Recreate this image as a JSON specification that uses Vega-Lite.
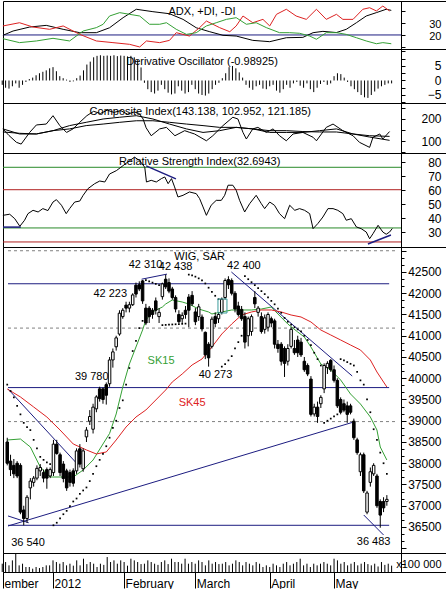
{
"$schema":"https://vega.github.io/schema/vega-lite/v6.json",
"padding":0,
"bounds":"flush",
"spacing":0,
"config":{"font":"Liberation Sans","view":{"stroke":"black","strokeWidth":1},"axis":{"grid":false,"labelFont":"Liberation Sans","labelFontSize":12,"labelColor":"black","tickColor":"black","domainColor":"black","tickSize":4,"title":null,"labelFlush":false,"labelOverlap":false},"text":{"font":"Liberation Sans"}},
"datasets":{
"d":[
{"t":0,"o":38500,"h":38600,"l":37950,"c":38000,"s":39850,"v":1050,"d":-1.5},
{"t":1,"o":38050,"h":38200,"l":37700,"c":37850,"s":39700,"v":1260,"d":-2.5},
{"t":2,"o":37950,"h":38100,"l":37650,"c":37750,"s":39550,"v":840,"d":-2.8},
{"t":3,"o":38000,"h":38050,"l":37650,"c":37700,"s":39350,"v":1470,"d":-2.0},
{"t":4,"o":37950,"h":38000,"l":36800,"c":36850,"s":39150,"v":2300,"d":-1.0},
{"t":5,"o":36900,"h":37000,"l":36540,"c":36700,"s":38950,"v":840,"d":-2.5},
{"t":6,"o":36700,"h":37250,"l":36600,"c":37200,"s":38850,"v":1050,"d":-1.5},
{"t":7,"o":37420,"h":37650,"l":37150,"c":37580,"s":38780,"v":630,"d":-0.5},
{"t":8,"o":37550,"h":37700,"l":37450,"c":37650,"s":38550,"v":630,"d":0.5},
{"t":9,"o":37650,"h":37950,"l":37600,"c":37880,"s":38350,"v":420,"d":1.0},
{"t":10,"o":37820,"h":37980,"l":37700,"c":37900,"s":38150,"v":630,"d":1.8},
{"t":11,"o":37780,"h":37850,"l":37550,"c":37650,"s":38080,"v":500,"d":2.5},
{"t":12,"o":37850,"h":37900,"l":37400,"c":37650,"s":38020,"v":630,"d":3.0},
{"t":13,"o":37700,"h":37900,"l":37650,"c":37850,"s":37980,"v":840,"d":3.5},
{"t":14,"o":37780,"h":38550,"l":37700,"c":38450,"s":36540,"v":840,"d":4.2},
{"t":15,"o":38450,"h":38550,"l":38200,"c":38230,"s":36600,"v":1470,"d":4.6},
{"t":16,"o":38200,"h":38250,"l":37700,"c":37780,"s":36700,"v":1260,"d":3.2},
{"t":17,"o":37980,"h":38050,"l":37550,"c":37640,"s":36800,"v":1050,"d":1.5},
{"t":18,"o":37820,"h":37870,"l":37350,"c":37420,"s":36880,"v":1260,"d":0.8},
{"t":19,"o":37780,"h":37850,"l":37450,"c":37550,"s":36990,"v":840,"d":0.3},
{"t":20,"o":37820,"h":37880,"l":37450,"c":37530,"s":37100,"v":1050,"d":-0.5},
{"t":21,"o":37820,"h":38350,"l":37750,"c":38290,"s":37170,"v":800,"d":-0.3},
{"t":22,"o":38340,"h":38450,"l":37900,"c":37980,"s":37280,"v":1470,"d":0.8},
{"t":23,"o":37870,"h":38350,"l":37800,"c":38290,"s":37360,"v":840,"d":1.7},
{"t":24,"o":38620,"h":38850,"l":38500,"c":38780,"s":37430,"v":1680,"d":3.5},
{"t":25,"o":38990,"h":39250,"l":38900,"c":39100,"s":37580,"v":1000,"d":5.5},
{"t":26,"o":38800,"h":39400,"l":38700,"c":39320,"s":37750,"v":1260,"d":6.5},
{"t":27,"o":39280,"h":39600,"l":39200,"c":39560,"s":37930,"v":1050,"d":8.0},
{"t":28,"o":39750,"h":39800,"l":39450,"c":39520,"s":38080,"v":630,"d":8.5},
{"t":29,"o":39750,"h":39780,"l":39400,"c":39500,"s":38220,"v":1050,"d":8.7},
{"t":30,"o":39850,"h":39900,"l":39380,"c":39600,"s":38400,"v":900,"d":8.5},
{"t":31,"o":39870,"h":40500,"l":39800,"c":40430,"s":38600,"v":1890,"d":8.6},
{"t":32,"o":40430,"h":40700,"l":40250,"c":40620,"s":38830,"v":1260,"d":8.5},
{"t":33,"o":40740,"h":41000,"l":40650,"c":40950,"s":39000,"v":1470,"d":8.7},
{"t":34,"o":41040,"h":41600,"l":41000,"c":41530,"s":39300,"v":1050,"d":8.4},
{"t":35,"o":41450,"h":41650,"l":41400,"c":41600,"s":39480,"v":1470,"d":8.6},
{"t":36,"o":41720,"h":41800,"l":41550,"c":41650,"s":39850,"v":1260,"d":8.5},
{"t":37,"o":41650,"h":41800,"l":41550,"c":41730,"s":40240,"v":800,"d":8.3},
{"t":38,"o":41730,"h":42000,"l":41700,"c":41960,"s":40640,"v":1680,"d":8.5},
{"t":39,"o":42190,"h":42250,"l":41900,"c":41980,"s":40880,"v":1470,"d":8.0},
{"t":40,"o":42200,"h":42280,"l":42050,"c":42100,"s":41180,"v":1260,"d":7.0},
{"t":41,"o":42290,"h":42310,"l":41750,"c":41820,"s":41350,"v":1000,"d":4.5},
{"t":42,"o":41650,"h":41750,"l":41250,"c":41300,"s":42310,"v":1050,"d":-0.8},
{"t":43,"o":41650,"h":41700,"l":41300,"c":41450,"s":42280,"v":1470,"d":-3.0},
{"t":44,"o":41600,"h":41650,"l":41400,"c":41500,"s":42250,"v":1260,"d":-4.0},
{"t":45,"o":41820,"h":41900,"l":41500,"c":41600,"s":42220,"v":1050,"d":-4.5},
{"t":46,"o":41450,"h":41650,"l":41300,"c":41550,"s":42190,"v":900,"d":-3.5},
{"t":47,"o":41920,"h":42250,"l":41850,"c":42220,"s":41250,"v":1260,"d":-1.5},
{"t":48,"o":42330,"h":42438,"l":42100,"c":42150,"s":41255,"v":1470,"d":-3.0},
{"t":49,"o":42250,"h":42350,"l":42000,"c":42050,"s":41260,"v":1000,"d":-4.2},
{"t":50,"o":42100,"h":42150,"l":41850,"c":41900,"s":41265,"v":1680,"d":-4.8},
{"t":51,"o":41900,"h":41950,"l":41550,"c":41630,"s":41270,"v":1260,"d":-4.5},
{"t":52,"o":41500,"h":41600,"l":41300,"c":41330,"s":41275,"v":1260,"d":-2.0},
{"t":53,"o":41400,"h":41550,"l":41300,"c":41480,"s":41280,"v":1050,"d":-3.5},
{"t":54,"o":41600,"h":41700,"l":41400,"c":41500,"s":41285,"v":1680,"d":-4.5},
{"t":55,"o":41910,"h":41980,"l":41200,"c":41600,"s":42438,"v":1050,"d":-4.0},
{"t":56,"o":41950,"h":42050,"l":41700,"c":41750,"s":42420,"v":1260,"d":-1.5},
{"t":57,"o":41560,"h":41650,"l":41250,"c":41330,"s":42390,"v":1050,"d":-3.0},
{"t":58,"o":41450,"h":41750,"l":41350,"c":41680,"s":42350,"v":1470,"d":-4.5},
{"t":59,"o":41440,"h":41500,"l":41100,"c":41160,"s":42300,"v":1260,"d":-5.0},
{"t":60,"o":41080,"h":41100,"l":40450,"c":40550,"s":42230,"v":840,"d":-5.2},
{"t":61,"o":40800,"h":40850,"l":40273,"c":40480,"s":42130,"v":1470,"d":-4.5},
{"t":62,"o":40750,"h":41450,"l":40700,"c":41390,"s":42030,"v":1050,"d":-3.0},
{"t":63,"o":41450,"h":41550,"l":41200,"c":41290,"s":41940,"v":1260,"d":-1.5},
{"t":64,"o":41400,"h":41550,"l":41300,"c":41500,"s":41860,"v":1000,"d":-0.8},
{"t":65,"o":41550,"h":41900,"l":41500,"c":41860,"s":40273,"v":1050,"d":0.8},
{"t":66,"o":41900,"h":42350,"l":41850,"c":42300,"s":40330,"v":1260,"d":2.5},
{"t":67,"o":42320,"h":42400,"l":42100,"c":42200,"s":40420,"v":840,"d":4.6},
{"t":68,"o":42300,"h":42350,"l":41950,"c":42000,"s":40520,"v":1050,"d":5.0},
{"t":69,"o":42000,"h":42050,"l":41550,"c":41630,"s":40700,"v":1470,"d":4.2},
{"t":70,"o":41700,"h":41800,"l":41450,"c":41500,"s":40850,"v":1260,"d":2.8},
{"t":71,"o":41620,"h":41700,"l":41350,"c":41400,"s":41000,"v":840,"d":1.0},
{"t":72,"o":41450,"h":41550,"l":40700,"c":40850,"s":42400,"v":1260,"d":-1.5},
{"t":73,"o":41000,"h":41450,"l":40750,"c":41400,"s":42330,"v":1050,"d":-2.5},
{"t":74,"o":41100,"h":41500,"l":41000,"c":41450,"s":42260,"v":840,"d":-3.2},
{"t":75,"o":41900,"h":42050,"l":41650,"c":41750,"s":42190,"v":1260,"d":-2.0},
{"t":76,"o":41550,"h":41700,"l":41450,"c":41650,"s":42120,"v":1050,"d":-1.5},
{"t":77,"o":41450,"h":41550,"l":41050,"c":41100,"s":42050,"v":630,"d":-2.8},
{"t":78,"o":41150,"h":41500,"l":41050,"c":41420,"s":41980,"v":840,"d":-3.0},
{"t":79,"o":41200,"h":41550,"l":41100,"c":41500,"s":41900,"v":630,"d":-2.0},
{"t":80,"o":41400,"h":41450,"l":41200,"c":41300,"s":41820,"v":1050,"d":-1.5},
{"t":81,"o":41350,"h":41400,"l":40700,"c":40800,"s":41740,"v":840,"d":-3.5},
{"t":82,"o":40800,"h":40900,"l":40600,"c":40700,"s":41640,"v":630,"d":-4.2},
{"t":83,"o":40800,"h":40850,"l":40300,"c":40400,"s":41540,"v":1050,"d":-3.0},
{"t":84,"o":40700,"h":40750,"l":40030,"c":40350,"s":41420,"v":1260,"d":-1.5},
{"t":85,"o":40400,"h":40800,"l":40300,"c":40700,"s":41330,"v":840,"d":-2.5},
{"t":86,"o":40750,"h":41200,"l":40700,"c":41150,"s":41260,"v":1050,"d":-1.0},
{"t":87,"o":40700,"h":40900,"l":40550,"c":40600,"s":41200,"v":1260,"d":-0.5},
{"t":88,"o":40900,"h":41000,"l":40500,"c":40600,"s":41150,"v":1680,"d":-1.8},
{"t":89,"o":40850,"h":40950,"l":40500,"c":40550,"s":41100,"v":840,"d":-2.5},
{"t":90,"o":40400,"h":40500,"l":40150,"c":40200,"s":41000,"v":1050,"d":-1.0},
{"t":91,"o":40300,"h":40350,"l":40050,"c":40100,"s":40900,"v":630,"d":-3.0},
{"t":92,"o":39980,"h":40050,"l":39100,"c":39150,"s":40780,"v":1050,"d":-4.0},
{"t":93,"o":39160,"h":39400,"l":39100,"c":39320,"s":40600,"v":840,"d":-2.5},
{"t":94,"o":39320,"h":39450,"l":38950,"c":39100,"s":40450,"v":1050,"d":-1.2},
{"t":95,"o":39400,"h":39600,"l":39300,"c":39550,"s":40300,"v":1260,"d":-0.5},
{"t":96,"o":39750,"h":40350,"l":39650,"c":40300,"s":38950,"v":1050,"d":-1.5},
{"t":97,"o":40250,"h":40400,"l":40100,"c":40350,"s":39000,"v":840,"d":-1.0},
{"t":98,"o":40420,"h":40450,"l":40150,"c":40200,"s":39050,"v":1680,"d":1.5},
{"t":99,"o":40200,"h":40300,"l":39900,"c":39950,"s":39100,"v":1470,"d":2.5},
{"t":100,"o":39950,"h":40000,"l":39300,"c":39350,"s":39150,"v":1050,"d":2.2},
{"t":101,"o":39500,"h":39550,"l":39150,"c":39200,"s":40450,"v":1260,"d":1.0},
{"t":102,"o":39400,"h":39500,"l":39200,"c":39250,"s":40420,"v":840,"d":-0.5},
{"t":103,"o":39350,"h":39450,"l":38950,"c":39150,"s":40380,"v":1050,"d":-2.0},
{"t":104,"o":39350,"h":39400,"l":39150,"c":39200,"s":40340,"v":1260,"d":-3.0},
{"t":105,"o":38990,"h":39050,"l":38550,"c":38600,"s":40300,"v":840,"d":-4.0},
{"t":106,"o":38550,"h":38600,"l":38200,"c":38250,"s":40150,"v":1050,"d":-5.0},
{"t":107,"o":37800,"h":38250,"l":37700,"c":38200,"s":39950,"v":1260,"d":-5.8},
{"t":108,"o":38200,"h":38250,"l":37300,"c":37350,"s":39850,"v":1000,"d":-6.0},
{"t":109,"o":36850,"h":37350,"l":36800,"c":37300,"s":39500,"v":840,"d":-5.0},
{"t":110,"o":37550,"h":37900,"l":37450,"c":37800,"s":39200,"v":1050,"d":-3.8},
{"t":111,"o":37750,"h":38000,"l":37700,"c":37950,"s":38800,"v":700,"d":-2.8},
{"t":112,"o":37700,"h":37750,"l":36950,"c":37000,"s":38550,"v":1260,"d":-2.0},
{"t":113,"o":37100,"h":37150,"l":36483,"c":36780,"s":38250,"v":900,"d":-1.5},
{"t":114,"o":37100,"h":37200,"l":36850,"c":36950,"s":38000,"v":1050,"d":-1.0},
{"t":115,"o":37100,"h":37250,"l":37000,"c":37150,"s":37750,"v":800,"d":-1.0}
],
"adx":[
{"t":0.2,"k":"ADX","v":19.7},{"t":3.2,"k":"ADX","v":23.3},{"t":8.1,"k":"ADX","v":26.6},{"t":13,"k":"ADX","v":28},{"t":18,"k":"ADX","v":24.7},{"t":22.9,"k":"ADX","v":21.9},{"t":27.8,"k":"ADX","v":21.9},{"t":31.7,"k":"ADX","v":26},{"t":35.7,"k":"ADX","v":34.4},{"t":39.6,"k":"ADX","v":41.4},{"t":44.5,"k":"ADX","v":39.4},{"t":49.4,"k":"ADX","v":37.7},{"t":53.4,"k":"ADX","v":33},{"t":57.3,"k":"ADX","v":26},{"t":61.3,"k":"ADX","v":22.7},{"t":65.2,"k":"ADX","v":19.7},{"t":69.1,"k":"ADX","v":19.1},{"t":74,"k":"ADX","v":15.5},{"t":79,"k":"ADX","v":14.4},{"t":83.9,"k":"ADX","v":17.7},{"t":88.8,"k":"ADX","v":18},{"t":91.8,"k":"ADX","v":21.9},{"t":94.7,"k":"ADX","v":23},{"t":98.7,"k":"ADX","v":22},{"t":101.6,"k":"ADX","v":24.7},{"t":104.6,"k":"ADX","v":30.2},{"t":107.5,"k":"ADX","v":35.8},{"t":110.5,"k":"ADX","v":38.6},{"t":113.4,"k":"ADX","v":41.4},{"t":114.9,"k":"ADX","v":40.5},
{"t":0.2,"k":"-DI","v":27.5},{"t":5.1,"k":"-DI","v":30.2},{"t":9.1,"k":"-DI","v":26.6},{"t":14,"k":"-DI","v":24.7},{"t":18,"k":"-DI","v":27.5},{"t":22.9,"k":"-DI","v":20.5},{"t":27.8,"k":"-DI","v":15},{"t":32.7,"k":"-DI","v":13.6},{"t":37.6,"k":"-DI","v":12.2},{"t":40.6,"k":"-DI","v":10},{"t":42.6,"k":"-DI","v":15},{"t":46.5,"k":"-DI","v":13.6},{"t":49.4,"k":"-DI","v":15.5},{"t":51.4,"k":"-DI","v":21.9},{"t":55.3,"k":"-DI","v":19.1},{"t":58.3,"k":"-DI","v":26.1},{"t":60.3,"k":"-DI","v":31.6},{"t":64.2,"k":"-DI","v":26.1},{"t":67.2,"k":"-DI","v":22.7},{"t":69.1,"k":"-DI","v":27.5},{"t":71.1,"k":"-DI","v":35.8},{"t":74,"k":"-DI","v":30.2},{"t":77,"k":"-DI","v":33},{"t":79,"k":"-DI","v":27.5},{"t":81,"k":"-DI","v":37.2},{"t":83.9,"k":"-DI","v":41.4},{"t":86.8,"k":"-DI","v":35.8},{"t":89.8,"k":"-DI","v":33},{"t":92.8,"k":"-DI","v":41.4},{"t":95.7,"k":"-DI","v":33},{"t":98.7,"k":"-DI","v":37.2},{"t":100.6,"k":"-DI","v":33},{"t":103.6,"k":"-DI","v":33},{"t":106.5,"k":"-DI","v":41.4},{"t":108.5,"k":"-DI","v":42.7},{"t":110.5,"k":"-DI","v":40},{"t":112.4,"k":"-DI","v":44.1},{"t":114.4,"k":"-DI","v":40},
{"t":0.2,"k":"+DI","v":16.9},{"t":5.1,"k":"+DI","v":13.6},{"t":10.1,"k":"+DI","v":15},{"t":15,"k":"+DI","v":17.2},{"t":19.9,"k":"+DI","v":15},{"t":23.9,"k":"+DI","v":23.3},{"t":27.8,"k":"+DI","v":26.1},{"t":29.8,"k":"+DI","v":28.9},{"t":31.7,"k":"+DI","v":35.8},{"t":34.7,"k":"+DI","v":38.6},{"t":37.6,"k":"+DI","v":37.2},{"t":40.6,"k":"+DI","v":35.8},{"t":43.5,"k":"+DI","v":28.9},{"t":46.5,"k":"+DI","v":28.9},{"t":48.5,"k":"+DI","v":30.2},{"t":51.4,"k":"+DI","v":24.7},{"t":54.4,"k":"+DI","v":20.5},{"t":57.3,"k":"+DI","v":21.9},{"t":60.3,"k":"+DI","v":27.5},{"t":63.2,"k":"+DI","v":30.2},{"t":66.2,"k":"+DI","v":33},{"t":69.1,"k":"+DI","v":34.4},{"t":72.1,"k":"+DI","v":28.9},{"t":75,"k":"+DI","v":30.2},{"t":78,"k":"+DI","v":26.1},{"t":81.9,"k":"+DI","v":21.9},{"t":84.9,"k":"+DI","v":21.9},{"t":87.8,"k":"+DI","v":21.4},{"t":90.8,"k":"+DI","v":19.1},{"t":92.8,"k":"+DI","v":16.4},{"t":95.7,"k":"+DI","v":21.9},{"t":98.7,"k":"+DI","v":21.9},{"t":101.6,"k":"+DI","v":20.5},{"t":104.6,"k":"+DI","v":17.7},{"t":107.5,"k":"+DI","v":15},{"t":110.5,"k":"+DI","v":12.7},{"t":112.4,"k":"+DI","v":13.6},{"t":114.9,"k":"+DI","v":12.7}
],
"ci":[
{"t":0.2,"k":"CI","v":155},{"t":2,"k":"CI","v":125},{"t":4.2,"k":"CI","v":94},{"t":5.6,"k":"CI","v":86},{"t":8.1,"k":"CI","v":139},{"t":10.1,"k":"CI","v":173},{"t":13,"k":"CI","v":177},{"t":15,"k":"CI","v":215},{"t":17,"k":"CI","v":170},{"t":19,"k":"CI","v":139},{"t":20.9,"k":"CI","v":155},{"t":22.9,"k":"CI","v":185},{"t":25,"k":"CI","v":215},{"t":27,"k":"CI","v":235},{"t":29,"k":"CI","v":225},{"t":31,"k":"CI","v":240},{"t":33,"k":"CI","v":230},{"t":35,"k":"CI","v":238},{"t":37,"k":"CI","v":222},{"t":39,"k":"CI","v":232},{"t":40.5,"k":"CI","v":225},{"t":41.6,"k":"CI","v":200},{"t":42.5,"k":"CI","v":160},{"t":44,"k":"CI","v":124},{"t":46.5,"k":"CI","v":155},{"t":48.5,"k":"CI","v":162},{"t":51,"k":"CI","v":124},{"t":53.9,"k":"CI","v":147},{"t":55.4,"k":"CI","v":139},{"t":56.8,"k":"CI","v":132},{"t":60.3,"k":"CI","v":101},{"t":62.2,"k":"CI","v":124},{"t":65.2,"k":"CI","v":170},{"t":68.1,"k":"CI","v":208},{"t":69.6,"k":"CI","v":200},{"t":71.1,"k":"CI","v":139},{"t":72.1,"k":"CI","v":109},{"t":74,"k":"CI","v":155},{"t":75.5,"k":"CI","v":162},{"t":78,"k":"CI","v":139},{"t":80,"k":"CI","v":155},{"t":81.9,"k":"CI","v":124},{"t":83.9,"k":"CI","v":101},{"t":85.9,"k":"CI","v":132},{"t":88.8,"k":"CI","v":139},{"t":91.8,"k":"CI","v":117},{"t":92.8,"k":"CI","v":101},{"t":95.7,"k":"CI","v":162},{"t":97.7,"k":"CI","v":177},{"t":100.6,"k":"CI","v":147},{"t":103.6,"k":"CI","v":124},{"t":105.5,"k":"CI","v":94},{"t":108.5,"k":"CI","v":71},{"t":109.5,"k":"CI","v":117},{"t":111.5,"k":"CI","v":132},{"t":112.4,"k":"CI","v":109},{"t":114.4,"k":"CI","v":143},
{"t":0.2,"k":"A","v":155},{"t":5.1,"k":"A","v":132},{"t":10.1,"k":"A","v":132},{"t":15,"k":"A","v":147},{"t":19.9,"k":"A","v":170},{"t":24.8,"k":"A","v":185},{"t":29.8,"k":"A","v":200},{"t":34.7,"k":"A","v":208},{"t":39.6,"k":"A","v":215},{"t":44.5,"k":"A","v":200},{"t":49.4,"k":"A","v":177},{"t":54.4,"k":"A","v":155},{"t":59.3,"k":"A","v":139},{"t":64.2,"k":"A","v":147},{"t":69.1,"k":"A","v":162},{"t":74,"k":"A","v":155},{"t":79,"k":"A","v":139},{"t":83.9,"k":"A","v":139},{"t":88.8,"k":"A","v":139},{"t":93.7,"k":"A","v":147},{"t":98.7,"k":"A","v":155},{"t":103.6,"k":"A","v":132},{"t":108.5,"k":"A","v":118},{"t":114.4,"k":"A","v":103},
{"t":0.2,"k":"B","v":141},{"t":5.1,"k":"B","v":135},{"t":10.1,"k":"B","v":132},{"t":15,"k":"B","v":147},{"t":19.9,"k":"B","v":155},{"t":24.8,"k":"B","v":170},{"t":29.8,"k":"B","v":177},{"t":34.7,"k":"B","v":185},{"t":39.6,"k":"B","v":192},{"t":44.5,"k":"B","v":192},{"t":49.4,"k":"B","v":185},{"t":54.4,"k":"B","v":177},{"t":59.3,"k":"B","v":170},{"t":64.2,"k":"B","v":162},{"t":69.1,"k":"B","v":162},{"t":74,"k":"B","v":155},{"t":79,"k":"B","v":147},{"t":83.9,"k":"B","v":147},{"t":88.8,"k":"B","v":143},{"t":93.7,"k":"B","v":141},{"t":98.7,"k":"B","v":141},{"t":103.6,"k":"B","v":132},{"t":108.5,"k":"B","v":124},{"t":114.4,"k":"B","v":121}
],
"rsi":[
{"t":0.2,"r":42.1},{"t":2.2,"r":42.9},{"t":3.7,"r":39.7},{"t":5.2,"r":34.3},{"t":6.6,"r":38.6},{"t":7.6,"r":43.3},{"t":9.1,"r":45.7},{"t":10.6,"r":44.5},{"t":12,"r":46.9},{"t":13.5,"r":45.5},{"t":15,"r":51.6},{"t":16,"r":53.3},{"t":17.5,"r":49.3},{"t":18.9,"r":43.3},{"t":19.9,"r":46.9},{"t":21.4,"r":51.6},{"t":22.9,"r":52.3},{"t":23.9,"r":56.4},{"t":25.3,"r":61.1},{"t":27.3,"r":64.7},{"t":28.8,"r":66.6},{"t":30.3,"r":65.9},{"t":31.7,"r":71.6},{"t":33.7,"r":74},{"t":35.7,"r":77.6},{"t":37.6,"r":81.1},{"t":39.1,"r":83.6},{"t":40.6,"r":81.1},{"t":42.1,"r":76.4},{"t":42.6,"r":65.9},{"t":44,"r":67.1},{"t":45.5,"r":65.9},{"t":47,"r":68.3},{"t":48,"r":69.5},{"t":49,"r":64.7},{"t":50,"r":68.3},{"t":50.9,"r":62.4},{"t":51.9,"r":55.2},{"t":53.4,"r":56.4},{"t":55.3,"r":58.8},{"t":57.3,"r":57.6},{"t":58.3,"r":54},{"t":59.3,"r":48.1},{"t":60.3,"r":42.1},{"t":61.7,"r":49.3},{"t":63.2,"r":52.8},{"t":64.7,"r":52.8},{"t":65.7,"r":56.4},{"t":66.7,"r":63.6},{"t":68.1,"r":63.6},{"t":69.1,"r":60},{"t":70.1,"r":52.8},{"t":71.6,"r":44.5},{"t":73.1,"r":50.5},{"t":75,"r":56.4},{"t":76.5,"r":50.5},{"t":77.5,"r":46.9},{"t":79,"r":51.6},{"t":80.4,"r":49.3},{"t":81.9,"r":43.3},{"t":83.4,"r":39.7},{"t":84.9,"r":49.3},{"t":86.4,"r":45.7},{"t":87.8,"r":46.9},{"t":89.3,"r":45.7},{"t":90.8,"r":43.3},{"t":91.8,"r":32.6},{"t":93.2,"r":36.2},{"t":94.7,"r":40.9},{"t":96.2,"r":46.9},{"t":97.7,"r":46.9},{"t":99.1,"r":45.7},{"t":100.6,"r":43.3},{"t":101.6,"r":38.6},{"t":103.1,"r":39.7},{"t":104.6,"r":33.8},{"t":106,"r":32.6},{"t":107.5,"r":30.2},{"t":108.5,"r":25.4},{"t":109.5,"r":29},{"t":111,"r":35},{"t":112.4,"r":30.2},{"t":113.4,"r":28.6},{"t":114.4,"r":30.2},{"t":115.2,"r":32.7}
],
"ma":[
{"t":0,"k":"SK15","p":38547},{"t":4,"k":"SK15","p":38570},{"t":7,"k":"SK15","p":38382},{"t":10,"k":"SK15","p":37912},{"t":13,"k":"SK15","p":37676},{"t":16,"k":"SK15","p":37676},{"t":20,"k":"SK15","p":37676},{"t":23,"k":"SK15","p":37841},{"t":26,"k":"SK15","p":38076},{"t":29,"k":"SK15","p":38453},{"t":31,"k":"SK15","p":38700},{"t":33,"k":"SK15","p":39159},{"t":35,"k":"SK15","p":39794},{"t":37,"k":"SK15","p":40335},{"t":39,"k":"SK15","p":40735},{"t":41,"k":"SK15","p":41135},{"t":42,"k":"SK15","p":41371},{"t":44,"k":"SK15","p":41559},{"t":47,"k":"SK15","p":41676},{"t":48,"k":"SK15","p":41747},{"t":50,"k":"SK15","p":41841},{"t":53,"k":"SK15","p":41794},{"t":55,"k":"SK15","p":41747},{"t":58,"k":"SK15","p":41629},{"t":61,"k":"SK15","p":41559},{"t":62,"k":"SK15","p":41512},{"t":65,"k":"SK15","p":41559},{"t":68,"k":"SK15","p":41606},{"t":71,"k":"SK15","p":41606},{"t":74,"k":"SK15","p":41606},{"t":77,"k":"SK15","p":41629},{"t":80,"k":"SK15","p":41676},{"t":82,"k":"SK15","p":41512},{"t":85,"k":"SK15","p":41276},{"t":88,"k":"SK15","p":41088},{"t":90,"k":"SK15","p":40971},{"t":92,"k":"SK15","p":40735},{"t":95,"k":"SK15","p":40335},{"t":98,"k":"SK15","p":40194},{"t":101,"k":"SK15","p":39959},{"t":104,"k":"SK15","p":39629},{"t":107,"k":"SK15","p":39394},{"t":110,"k":"SK15","p":39088},{"t":112,"k":"SK15","p":38782},{"t":113,"k":"SK15","p":38382},{"t":115,"k":"SK15","p":38076},
{"t":0,"k":"SK45","p":39747},{"t":4,"k":"SK45","p":39559},{"t":8,"k":"SK45","p":39324},{"t":12,"k":"SK45","p":39088},{"t":16,"k":"SK45","p":38782},{"t":20,"k":"SK45","p":38453},{"t":24,"k":"SK45","p":38312},{"t":27,"k":"SK45","p":38218},{"t":30,"k":"SK45","p":38265},{"t":33,"k":"SK45","p":38547},{"t":36,"k":"SK45","p":38853},{"t":39,"k":"SK45","p":39088},{"t":42,"k":"SK45","p":39253},{"t":45,"k":"SK45","p":39488},{"t":48,"k":"SK45","p":39724},{"t":50,"k":"SK45","p":39912},{"t":53,"k":"SK45","p":40100},{"t":56,"k":"SK45","p":40312},{"t":59,"k":"SK45","p":40453},{"t":62,"k":"SK45","p":40735},{"t":65,"k":"SK45","p":41041},{"t":68,"k":"SK45","p":41276},{"t":71,"k":"SK45","p":41488},{"t":74,"k":"SK45","p":41559},{"t":77,"k":"SK45","p":41606},{"t":80,"k":"SK45","p":41606},{"t":83,"k":"SK45","p":41559},{"t":86,"k":"SK45","p":41488},{"t":89,"k":"SK45","p":41441},{"t":92,"k":"SK45","p":41324},{"t":95,"k":"SK45","p":41135},{"t":98,"k":"SK45","p":41018},{"t":101,"k":"SK45","p":40900},{"t":104,"k":"SK45","p":40782},{"t":107,"k":"SK45","p":40665},{"t":110,"k":"SK45","p":40429},{"t":112,"k":"SK45","p":40147},{"t":115,"k":"SK45","p":39794}
],
"hl":[
{"panel":"adx","v":20,"kind":"level"},
{"panel":"rsi","v":76.4,"kind":"bandA"},{"panel":"rsi","v":60.4,"kind":"bandB"},{"panel":"rsi","v":33.1,"kind":"bandA"},{"panel":"rsi","v":23.1,"kind":"bandB"},
{"panel":"main","v":43000,"kind":"grid"},{"panel":"main","v":41180,"kind":"grid"},{"panel":"main","v":38980,"kind":"grid"},
{"panel":"main","v":42223,"kind":"level"},{"panel":"main","v":39780,"kind":"level"},{"panel":"main","v":36540,"kind":"level"}
],
"tl":[
{"panel":"main","t1":0.23,"v1":36523,"t2":104.5,"v2":38960},
{"panel":"main","t1":0.23,"v1":39747,"t2":21.5,"v2":37959},
{"panel":"main","t1":0.23,"v1":36760,"t2":6.5,"v2":36600},
{"panel":"main","t1":40.7,"v1":42330,"t2":48.4,"v2":42450},
{"panel":"main","t1":67.9,"v1":42500,"t2":104.5,"v2":40053},
{"panel":"main","t1":108,"v1":36782,"t2":114,"v2":36312},
{"panel":"rsi","t1":0.23,"v1":33.7,"t2":5.5,"v2":33.7},
{"panel":"rsi","t1":108,"v1":21.6,"t2":114.8,"v2":28.1},
{"panel":"rsi","t1":42.5,"v1":77.4,"t2":51.3,"v2":68.1}
],
"titles":[
{"panel":"adx","t":59,"v":39.1,"txt":"ADX, +DI, -DI"},
{"panel":"do","t":59,"v":6.4,"txt":"Derivative Oscillator (-0.98925)"},
{"panel":"ci","t":58.5,"v":230,"txt":"Composite Index(143.138, 102.952, 121.185)"},
{"panel":"rsi","t":58.3,"v":80,"txt":"Relative Strength Index(32.6943)"}
],
"ann":[
{"t":41.9,"v":42665,"txt":"42 310","kind":"lvl"},
{"t":51,"v":42618,"txt":"42 438","kind":"lvl"},
{"t":71.7,"v":42634,"txt":"42 400","kind":"lvl"},
{"t":31.2,"v":41975,"txt":"42 223","kind":"lvl"},
{"t":25.6,"v":40030,"txt":"39 780","kind":"lvl"},
{"t":63.1,"v":40076,"txt":"40 273","kind":"lvl"},
{"t":46.6,"v":40406,"txt":"SK15","kind":"SK15"},
{"t":56,"v":39425,"txt":"SK45","kind":"SK45"},
{"t":6.3,"v":36130,"txt":"36 540","kind":"lvl"},
{"t":111,"v":36154,"txt":"36 483","kind":"lvl"},
{"t":58.3,"v":42853,"txt":"WIG, SAR","kind":"title"}
],
"box":[{"t":65.2,"lo":41535,"hi":41865}]
},
"vconcat":[
{"width":445,"height":48,"resolve":{"axis":{"y":"independent","x":"independent"}},"layer":[
 {"data":{"name":"hl"},"transform":[{"filter":"datum.panel==='adx'"}],"mark":{"type":"rule","color":"#1c1c80","strokeWidth":1},
  "encoding":{"x":{"datum":0.23,"type":"quantitative","scale":{"domain":[0.23,117.77],"range":[0,398],"nice":false,"zero":false},"axis":null},"x2":{"datum":117.77},
  "y":{"field":"v","type":"quantitative","scale":{"domain":[8.3,48.3],"nice":false,"zero":false},"axis":{"orient":"right","offset":-47,"values":[10,20,30,40],"labelExpr":"datum.value===20||datum.value===30?datum.label:''","labelAlign":"right","labelPadding":36,"tickSize":4,"labelFontSize":11,"labelOffset":1.5}}}},
 {"data":{"name":"adx"},"mark":{"type":"line","strokeWidth":1},
  "encoding":{"x":{"field":"t","type":"quantitative","scale":{"domain":[0.23,117.77],"range":[0,398],"nice":false,"zero":false},"axis":null},
  "y":{"field":"v","type":"quantitative","scale":{"domain":[8.3,48.3],"nice":false,"zero":false},"axis":null},
  "color":{"field":"k","type":"nominal","scale":{"domain":["ADX","+DI","-DI"],"range":["black","#34a034","#dd2222"]},"legend":null}}},
 {"data":{"name":"titles"},"transform":[{"filter":"datum.panel==='adx'"}],"mark":{"type":"text","fontSize":11,"color":"black"},
  "encoding":{"x":{"field":"t","type":"quantitative","scale":{"domain":[0.23,117.77],"range":[0,398],"nice":false,"zero":false},"axis":null},
  "y":{"field":"v","type":"quantitative","scale":{"domain":[8.3,48.3],"nice":false,"zero":false},"axis":null},"text":{"field":"txt"}}}
]},
{"width":445,"height":54,"resolve":{"axis":{"y":"independent","x":"independent"}},"layer":[
 {"data":{"name":"d"},"mark":{"type":"rule","color":"black","strokeWidth":1},
  "encoding":{"x":{"field":"t","type":"quantitative","scale":{"domain":[0.23,117.77],"range":[0,398],"nice":false,"zero":false},"axis":null},
  "y":{"field":"d","type":"quantitative","scale":{"domain":[-7.76,10.86],"nice":false,"zero":false},"axis":{"orient":"right","offset":-47,"values":[-7.5,-5,-2.5,0,2.5,5,7.5,10],"labelExpr":"datum.value===5||datum.value===0||datum.value===-5?datum.label:''","labelAlign":"right","labelPadding":36,"tickSize":4}},
  "y2":{"datum":0}}},
 {"data":{"name":"titles"},"transform":[{"filter":"datum.panel==='do'"}],"mark":{"type":"text","fontSize":11,"color":"black"},
  "encoding":{"x":{"field":"t","type":"quantitative","scale":{"domain":[0.23,117.77],"range":[0,398],"nice":false,"zero":false},"axis":null},
  "y":{"field":"v","type":"quantitative","scale":{"domain":[-7.76,10.86],"nice":false,"zero":false},"axis":null},"text":{"field":"txt"}}}
]},
{"width":445,"height":50,"resolve":{"axis":{"y":"independent","x":"independent"}},"layer":[
 {"data":{"name":"ci"},"mark":{"type":"line","strokeWidth":1,"color":"black"},
  "encoding":{"x":{"field":"t","type":"quantitative","scale":{"domain":[0.23,117.77],"range":[0,398],"nice":false,"zero":false},"axis":null},
  "y":{"field":"v","type":"quantitative","scale":{"domain":[45.5,272.7],"nice":false,"zero":false},"axis":{"orient":"right","offset":-47,"values":[50,100,150,200,250],"labelExpr":"datum.value===100||datum.value===200?datum.label:''","labelAlign":"right","labelPadding":36,"tickSize":4}},
  "detail":{"field":"k"}}},
 {"data":{"name":"titles"},"transform":[{"filter":"datum.panel==='ci'"}],"mark":{"type":"text","fontSize":11,"color":"black"},
  "encoding":{"x":{"field":"t","type":"quantitative","scale":{"domain":[0.23,117.77],"range":[0,398],"nice":false,"zero":false},"axis":null},
  "y":{"field":"v","type":"quantitative","scale":{"domain":[45.5,272.7],"nice":false,"zero":false},"axis":null},"text":{"field":"txt"}}}
]},
{"width":445,"height":94,"resolve":{"axis":{"y":"independent","x":"independent"}},"layer":[
 {"data":{"name":"hl"},"transform":[{"filter":"datum.panel==='rsi' && datum.kind==='bandA'"}],"mark":{"type":"rule","color":"#2a8a2a","strokeWidth":1},
  "encoding":{"x":{"datum":0.23,"type":"quantitative","scale":{"domain":[0.23,117.77],"range":[0,398],"nice":false,"zero":false},"axis":null},"x2":{"datum":117.77},
  "y":{"field":"v","type":"quantitative","scale":{"domain":[19.5,86.6],"nice":false,"zero":false},"axis":{"orient":"right","offset":-47,"values":[30,40,50,60,70,80],"labelAlign":"right","labelPadding":36,"tickSize":4}}}},
 {"data":{"name":"hl"},"transform":[{"filter":"datum.panel==='rsi' && datum.kind==='bandB'"}],"mark":{"type":"rule","color":"#b02020","strokeWidth":1},
  "encoding":{"x":{"datum":0.23,"type":"quantitative","scale":{"domain":[0.23,117.77],"range":[0,398],"nice":false,"zero":false},"axis":null},"x2":{"datum":117.77},
  "y":{"field":"v","type":"quantitative","scale":{"domain":[19.5,86.6],"nice":false,"zero":false},"axis":null}}},
 {"data":{"name":"tl"},"transform":[{"filter":"datum.panel==='rsi'"}],"mark":{"type":"rule","color":"#1c1c80","strokeWidth":1.5},
  "encoding":{"x":{"field":"t1","type":"quantitative","scale":{"domain":[0.23,117.77],"range":[0,398],"nice":false,"zero":false},"axis":null},"x2":{"field":"t2"},
  "y":{"field":"v1","type":"quantitative","scale":{"domain":[19.5,86.6],"nice":false,"zero":false},"axis":null},"y2":{"field":"v2"}}},
 {"data":{"name":"rsi"},"mark":{"type":"line","strokeWidth":1,"color":"black"},
  "encoding":{"x":{"field":"t","type":"quantitative","scale":{"domain":[0.23,117.77],"range":[0,398],"nice":false,"zero":false},"axis":null},
  "y":{"field":"r","type":"quantitative","scale":{"domain":[19.5,86.6],"nice":false,"zero":false},"axis":null}}},
 {"data":{"name":"titles"},"transform":[{"filter":"datum.panel==='rsi'"}],"mark":{"type":"text","fontSize":11,"color":"black"},
  "encoding":{"x":{"field":"t","type":"quantitative","scale":{"domain":[0.23,117.77],"range":[0,398],"nice":false,"zero":false},"axis":null},
  "y":{"field":"v","type":"quantitative","scale":{"domain":[19.5,86.6],"nice":false,"zero":false},"axis":null},"text":{"field":"txt"}}}
]},
{"width":445,"height":306,"resolve":{"axis":{"y":"independent","x":"independent"}},"layer":[
 {"data":{"name":"hl"},"transform":[{"filter":"datum.panel==='main' && datum.kind==='grid'"}],"mark":{"type":"rule","color":"#808080","strokeWidth":1,"strokeDash":[3,3]},
  "encoding":{"x":{"datum":0.23,"type":"quantitative","scale":{"domain":[0.23,117.77],"range":[0,398],"nice":false,"zero":false},"axis":null},"x2":{"datum":117.77},
  "y":{"field":"v","type":"quantitative","scale":{"domain":[35888,43088],"nice":false,"zero":false},"axis":{"orient":"right","offset":-47,
   "values":[36000,36166.67,36333.33,36500,36666.67,36833.33,37000,37166.67,37333.33,37500,37666.67,37833.33,38000,38166.67,38333.33,38500,38666.67,38833.33,39000,39166.67,39333.33,39500,39666.67,39833.33,40000,40166.67,40333.33,40500,40666.67,40833.33,41000,41166.67,41333.33,41500,41666.67,41833.33,42000,42166.67,42333.33,42500,42666.67,42833.33,43000],
   "labelExpr":"(datum.value % 500 === 0 && datum.value >= 36500 && datum.value <= 42500) ? format(datum.value,'d') : ''",
   "labelAlign":"right","labelPadding":35,"tickSize":{"condition":{"test":"datum.value % 500 === 0","value":5},"value":3}}}}},
 {"data":{"name":"hl"},"transform":[{"filter":"datum.panel==='main' && datum.kind==='level'"}],"mark":{"type":"rule","color":"#1c1c80","strokeWidth":1},
  "encoding":{"x":{"datum":0.23,"type":"quantitative","scale":{"domain":[0.23,117.77],"range":[0,398],"nice":false,"zero":false},"axis":null},"x2":{"datum":115.7},
  "y":{"field":"v","type":"quantitative","scale":{"domain":[35888,43088],"nice":false,"zero":false},"axis":null}}},
 {"data":{"name":"tl"},"transform":[{"filter":"datum.panel==='main'"}],"mark":{"type":"rule","color":"#1c1c80","strokeWidth":1},
  "encoding":{"x":{"field":"t1","type":"quantitative","scale":{"domain":[0.23,117.77],"range":[0,398],"nice":false,"zero":false},"axis":null},"x2":{"field":"t2"},
  "y":{"field":"v1","type":"quantitative","scale":{"domain":[35888,43088],"nice":false,"zero":false},"axis":null},"y2":{"field":"v2"}}},
 {"data":{"name":"ma"},"mark":{"type":"line","strokeWidth":1},
  "encoding":{"x":{"field":"t","type":"quantitative","scale":{"domain":[0.23,117.77],"range":[0,398],"nice":false,"zero":false},"axis":null},
  "y":{"field":"p","type":"quantitative","scale":{"domain":[35888,43088],"nice":false,"zero":false},"axis":null},
  "color":{"field":"k","type":"nominal","scale":{"domain":["lvl","SK15","SK45","title"],"range":["#1c1c80","#3cb03c","#b03030","black"]},"legend":null}}},
 {"data":{"name":"d"},"mark":{"type":"square","size":3,"color":"black","opacity":1,"filled":true},
  "encoding":{"x":{"field":"t","type":"quantitative","scale":{"domain":[0.23,117.77],"range":[0,398],"nice":false,"zero":false},"axis":null},
  "y":{"field":"s","type":"quantitative","scale":{"domain":[35888,43088],"nice":false,"zero":false},"axis":null}}},
 {"data":{"name":"d"},"mark":{"type":"rule","color":"black","strokeWidth":1},
  "encoding":{"x":{"field":"t","type":"quantitative","scale":{"domain":[0.23,117.77],"range":[0,398],"nice":false,"zero":false},"axis":null},
  "y":{"field":"l","type":"quantitative","scale":{"domain":[35888,43088],"nice":false,"zero":false},"axis":null},"y2":{"field":"h"}}},
 {"data":{"name":"d"},"mark":{"type":"bar","width":2.5,"stroke":"black","strokeWidth":1},
  "encoding":{"x":{"field":"t","type":"quantitative","scale":{"domain":[0.23,117.77],"range":[0,398],"nice":false,"zero":false},"axis":null},
  "y":{"field":"o","type":"quantitative","scale":{"domain":[35888,43088],"nice":false,"zero":false},"axis":null},"y2":{"field":"c"},
  "fill":{"condition":{"test":"datum.c > datum.o","value":"white"},"value":"black"}}},
 {"data":{"name":"box"},"mark":{"type":"bar","width":9,"filled":false,"stroke":"#3a9a9a","strokeWidth":1},
  "encoding":{"x":{"field":"t","type":"quantitative","scale":{"domain":[0.23,117.77],"range":[0,398],"nice":false,"zero":false},"axis":null},
  "y":{"field":"lo","type":"quantitative","scale":{"domain":[35888,43088],"nice":false,"zero":false},"axis":null},"y2":{"field":"hi"}}},
 {"data":{"name":"ann"},"mark":{"type":"text","fontSize":11},
  "encoding":{"x":{"field":"t","type":"quantitative","scale":{"domain":[0.23,117.77],"range":[0,398],"nice":false,"zero":false},"axis":null},
  "y":{"field":"v","type":"quantitative","scale":{"domain":[35888,43088],"nice":false,"zero":false},"axis":null},"text":{"field":"txt"},
  "color":{"field":"kind","type":"nominal","scale":{"domain":["lvl","SK15","SK45","title"],"range":["#1c1c80","#3cb03c","#b03030","black"]},"legend":null}}}
]},
{"width":445,"height":19,"layer":[
 {"data":{"name":"d"},"mark":{"type":"rule","color":"black","strokeWidth":1},
  "encoding":{"x":{"field":"t","type":"quantitative","scale":{"domain":[0.23,117.77],"range":[0,398],"nice":false,"zero":false},
   "axis":{"orient":"bottom","values":[0.23,15,36,57,79,98],"labelExpr":"datum.value<1?'ember':datum.value===15?'2012':datum.value===36?'February':datum.value===57?'March':datum.value===79?'April':'May'","labelAlign":"left","labelBaseline":"middle","tickSize":16,"labelPadding":-5,"labelOffset":1,"labelFontSize":12}},
  "y":{"field":"v","type":"quantitative","scale":{"domain":[0,2400],"nice":false,"zero":false},"axis":{"orient":"right","offset":-47,"values":[1000],"labelExpr":"'x100 000'","labelAlign":"right","labelPadding":36,"tickSize":4,"labelFontSize":11}},
  "y2":{"datum":0}}}
]}
]
}
